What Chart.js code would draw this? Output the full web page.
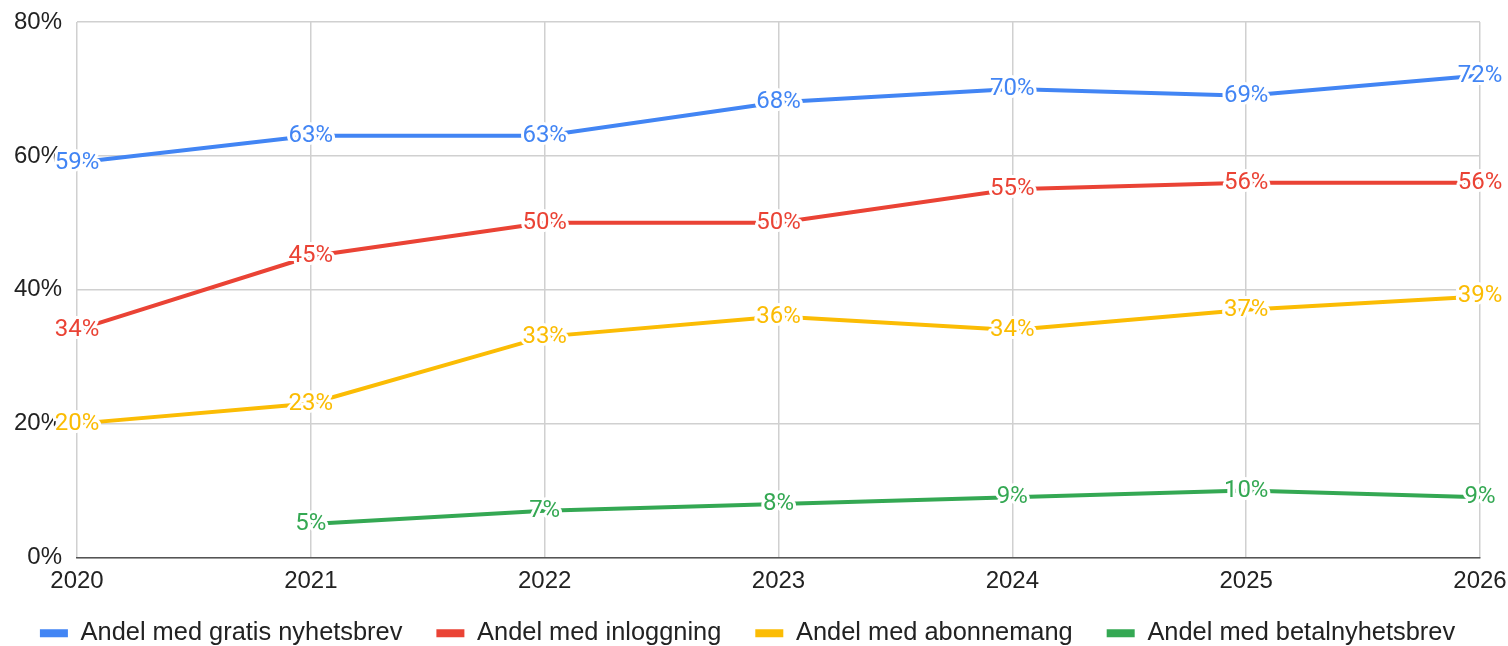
<!DOCTYPE html>
<html>
<head>
<meta charset="utf-8">
<script src="https://cdn.jsdelivr.net/npm/chart.js@4.4.1/dist/chart.umd.min.js"></script>
<style>
  html, body { margin: 0; padding: 0; background: #ffffff; }
  #wrap { width: 1508px; height: 646px; position: relative; }
</style>
</head>
<body>
<div id="wrap"><canvas id="chart"></canvas></div>
<script>
// Years on the horizontal axis
const years = ['2020', '2021', '2022', '2023', '2024', '2025', '2026'];

// Share of sites (percent) per year
const gratisNyhetsbrev = [59, 63, 63, 68, 70, 69, 72];
const inloggning = [34, 45, 50, 50, 55, 56, 56];
const abonnemang = [20, 23, 33, 36, 34, 37, 39];
const betalNyhetsbrev = [null, 5, 7, 8, 9, 10, 9];

const seriesNames = [
  'Andel med gratis nyhetsbrev',
  'Andel med inloggning',
  'Andel med abonnemang',
  'Andel med betalnyhetsbrev'
];

// Vertical axis ticks
const yTicks = [0, 20, 40, 60, 80];

const colors = ['#4285F4', '#EA4335', '#FBBC04', '#34A853'];
const seriesData = [gratisNyhetsbrev, inloggning, abonnemang, betalNyhetsbrev];

// Draws each point's value as text centred on the point, with a white halo
const valueLabels = {
  id: 'valueLabels',
  afterDatasetsDraw(chart) {
    const ctx = chart.ctx;
    ctx.save();
    ctx.font = '24px Roboto, "Noto Sans", sans-serif';
    ctx.textAlign = 'center';
    ctx.textBaseline = 'middle';
    ctx.lineJoin = 'round';
    chart.data.datasets.forEach((ds, i) => {
      const meta = chart.getDatasetMeta(i);
      meta.data.forEach((pt, j) => {
        const v = ds.data[j];
        if (v === null || v === undefined) return;
        const text = v + '%';
        ctx.lineWidth = 6;
        ctx.strokeStyle = '#ffffff';
        ctx.strokeText(text, pt.x, pt.y);
        ctx.fillStyle = ds.borderColor;
        ctx.fillText(text, pt.x, pt.y);
      });
    });
    ctx.restore();
  }
};

// Pulls the legend row up a little closer to the axis labels
const legendNudge = {
  id: 'legendNudge',
  afterLayout(chart) {
    if (chart.legend) {
      chart.legend.top -= 8;
    }
  }
};

new Chart(document.getElementById('chart'), {
  type: 'line',
  data: {
    labels: years,
    datasets: seriesData.map((d, i) => ({
      label: seriesNames[i],
      data: d,
      borderColor: colors[i],
      backgroundColor: colors[i],
      borderWidth: 4,
      pointRadius: 0,
      pointHoverRadius: 0,
      tension: 0,
      spanGaps: false
    }))
  },
  options: {
    responsive: true,
    maintainAspectRatio: false,
    animation: false,
    devicePixelRatio: 1,
    layout: { autoPadding: false, padding: { top: 22, right: 13, left: 0, bottom: 0 } },
    scales: {
      x: {
        offset: false,
        grid: { color: '#d0d0d0', lineWidth: 1.5, drawTicks: false },
        border: { display: true, color: '#555555', width: 1.5 },
        ticks: {
          padding: 9,
          color: '#222222',
          maxRotation: 0,
          autoSkip: false,
          font: { family: '"Liberation Sans", Arial, sans-serif', size: 24 }
        },
        afterFit(scale) {
          scale.height = 37;
          scale.paddingLeft = 0;
          scale.paddingRight = 28;
        }
      },
      y: {
        min: 0,
        max: 80,
        afterBuildTicks(scale) { scale.ticks = yTicks.map(v => ({ value: v })); },
        grid: { color: '#d0d0d0', lineWidth: 1.5, drawTicks: false },
        border: { display: false },
        ticks: {
          padding: 15,
          color: '#222222',
          font: { family: '"Liberation Sans", Arial, sans-serif', size: 24 },
          callback: v => v + '%'
        },
        afterFit(scale) {
          scale.width = 77;
          scale.paddingTop = 0;
          scale.paddingBottom = 0;
        }
      }
    },
    plugins: {
      legend: {
        position: 'bottom',
        maxHeight: 51.5,
        labels: {
          boxWidth: 28,
          boxHeight: 8,
          padding: 34,
          color: '#222222',
          font: { family: '"Liberation Sans", Arial, sans-serif', size: 25.4 },
          generateLabels(chart) {
            return Chart.defaults.plugins.legend.labels.generateLabels(chart)
              .map(item => Object.assign(item, { lineWidth: 0 }));
          }
        }
      },
      tooltip: { enabled: false }
    }
  },
  plugins: [valueLabels, legendNudge]
});
</script>
</body>
</html>
